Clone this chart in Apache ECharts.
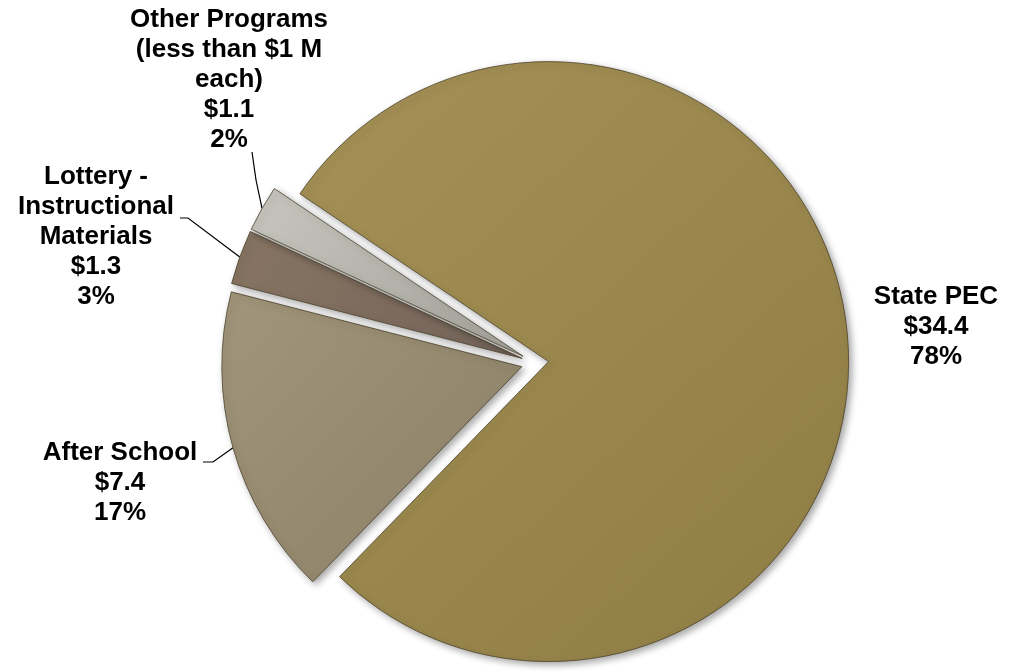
<!DOCTYPE html>
<html><head><meta charset="utf-8">
<script src="https://cdn.jsdelivr.net/npm/echarts@6/dist/echarts.min.js"></script>
<style>html,body{margin:0;padding:0;background:#fff}#c{width:1009px;height:671px}</style>
</head><body><div id="c"></div>
<script>
// ---- data ----
const categories = ['State PEC', 'After School', 'Lottery -\nInstructional\nMaterials', 'Other Programs\n(less than $1 M\neach)'];
const values = [34.4, 7.4, 1.3, 1.1];

// ---- style / layout ----
const gradStops = [
  ['#A59156', '#8E7D44'],
  ['#A1957B', '#8B7F66'],
  ['#877462', '#74645A'],
  ['#C6C6BF', '#A2A29A']
];
const explode = [13.7, 13.7, 13.7, 13.7];
const labelCenters = [[936, 327], [120, 483], [96, 237], [229, 80]];
const leaderBends = [null, [[213, 462], [203, 462]], [[188, 218], [180, 218]], [[256, 180], [252, 152]]];
const baseCenter = [535, 363];
const radius = 300;
const startAngle = 146;

const total = values.reduce((a, b) => a + b, 0);
let acc = 0;
const mids = values.map(v => {
  const a0 = startAngle - acc / total * 360; acc += v;
  const a1 = startAngle - acc / total * 360;
  return (a0 + a1) / 2;
});

const series = categories.map((name, i) => {
  const m = mids[i] * Math.PI / 180;
  const c = [baseCenter[0] + explode[i] * Math.cos(m), baseCenter[1] - explode[i] * Math.sin(m)];
  return {
    type: 'pie', center: c, radius: radius, startAngle: startAngle, clockwise: true,
    animation: false, silent: true, avoidLabelOverlap: false,
    emphasis: { disabled: true },
    data: categories.map((n, j) => ({
      name: n, value: values[j],
      itemStyle: j === i ? {
        color: { type: 'linear', x: 0, y: 0, x2: 1, y2: 1, colorStops: [{ offset: 0, color: gradStops[j][0] }, { offset: 1, color: gradStops[j][1] }] },
        borderColor: 'rgba(70,60,35,0.75)', borderWidth: 1,
        shadowBlur: 7, shadowOffsetX: 3, shadowOffsetY: 3, shadowColor: 'rgba(0,0,0,0.35)'
      } : { color: 'rgba(0,0,0,0)', borderWidth: 0, shadowBlur: 0 },
      label: { show: j === i },
      labelLine: { show: j === i && leaderBends[j] != null }
    })),
    label: {
      position: 'outside',
      formatter: p => p.name + '\n$' + p.value.toFixed(1) + '\n' + Math.round(p.percent) + '%',
      color: '#000', fontFamily: '"Liberation Sans", Arial, sans-serif', fontWeight: 'bold',
      fontSize: 26, lineHeight: 30, align: 'center'
    },
    labelLine: { smooth: false, lineStyle: { color: '#000', width: 1.2 } },
    labelLayout: p => {
      if (p.dataIndex !== i) return {};
      const lc = labelCenters[i];
      const out = { x: lc[0], y: lc[1], align: 'center', verticalAlign: 'middle' };
      if (leaderBends[i]) {
        const p0 = (p.labelLinePoints && p.labelLinePoints[0]) || [c[0] + radius * Math.cos(m), c[1] - radius * Math.sin(m)];
        out.labelLinePoints = [p0, leaderBends[i][0], leaderBends[i][1]];
      }
      return out;
    }
  };
});

const chart = echarts.init(document.getElementById('c'), null, { renderer: 'canvas' });
chart.setOption({ backgroundColor: '#fff', animation: false, series: series });
</script>
</body></html>
